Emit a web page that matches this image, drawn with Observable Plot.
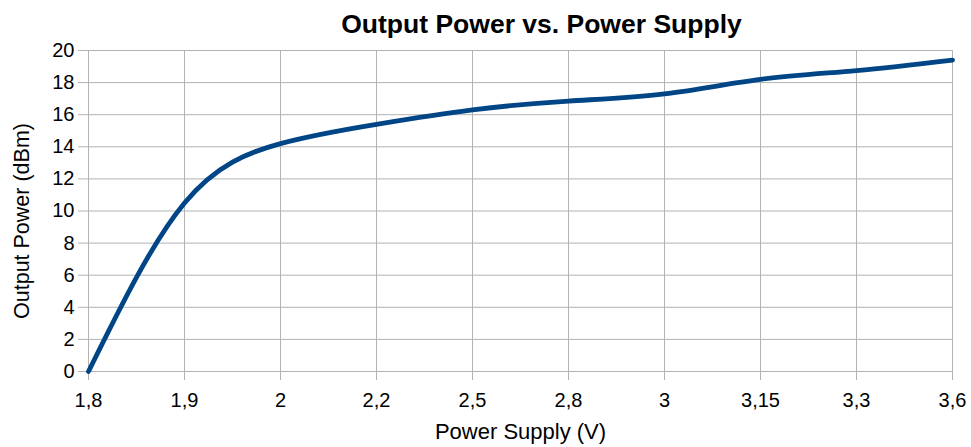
<!DOCTYPE html>
<html>
<head>
<meta charset="utf-8">
<script src="https://cdn.jsdelivr.net/npm/d3@7"></script>
<script src="https://cdn.jsdelivr.net/npm/@observablehq/plot@0.6"></script>
<style>
  html, body { margin: 0; padding: 0; background: #fff; }
  #title { width: 971px; height: 42px; box-sizing: border-box; padding-left: 112px; text-align: center;
           font: bold 26.5px "Liberation Sans", Arial, sans-serif; line-height: 48px; color: #000; }
</style>
</head>
<body>
<div id="title">Output Power vs. Power Supply</div>
<div id="chart"></div>
<script>
const supplyLabels = ["1,8", "1,9", "2", "2,2", "2,5", "2,8", "3", "3,15", "3,3", "3,6"];
const outputPower = [0, 10.5, 14.2, 15.4, 16.3, 16.85, 17.3, 18.2, 18.75, 19.4];
const yTicks = [0, 2, 4, 6, 8, 10, 12, 14, 16, 18, 20];

const data = supplyLabels.map((s, i) => ({supply: s, power: outputPower[i]}));

const chart = Plot.plot({
  width: 971,
  height: 405,
  marginTop: 8,
  marginBottom: 76,
  marginLeft: 88,
  marginRight: 19,
  style: {fontFamily: "'Liberation Sans', Arial, sans-serif", fontSize: "20px", color: "#000", background: "#fff", overflow: "visible"},
  x: {type: "point", domain: supplyLabels, padding: 0},
  y: {domain: [0, 20]},
  marks: [
    Plot.gridX(supplyLabels, {stroke: "#b3b3b3", strokeOpacity: 1}),
    Plot.gridY(yTicks, {stroke: "#b3b3b3", strokeOpacity: 1}),
    Plot.axisY(yTicks, {tickSize: 10, tickPadding: 4, stroke: "#b3b3b3", fill: "#000", label: null, fontSize: 20}),
    Plot.axisX(supplyLabels, {tickSize: 9, tickPadding: 12, stroke: "#b3b3b3", fill: "#000", label: null, fontSize: 20}),
    Plot.line(data, {x: "supply", y: "power", stroke: "#004586", strokeWidth: 4.8, curve: "natural"}),
    Plot.text(["Power Supply (V)"], {frameAnchor: "bottom", dy: 67, fontSize: 22, fill: "#000"}),
    Plot.text(["Output Power (dBm)"], {frameAnchor: "left", textAnchor: "middle", dx: -66, dy: 10, rotate: -90, fontSize: 21.5, fill: "#000"})
  ]
});
document.getElementById("chart").appendChild(chart);
</script>
</body>
</html>
